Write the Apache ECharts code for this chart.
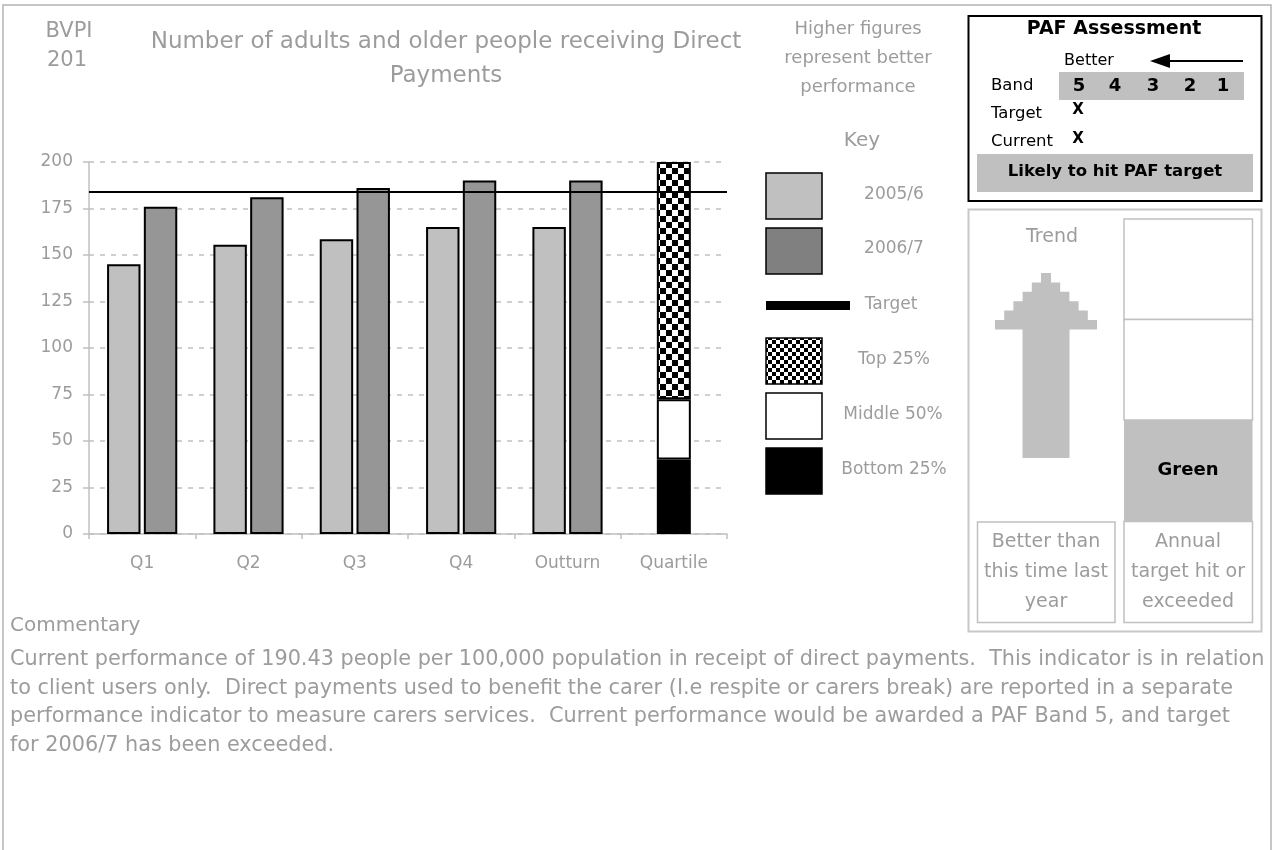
<!DOCTYPE html>
<html>
<head>
<meta charset="utf-8">
<title>BVPI 201</title>
<script src="https://cdn.jsdelivr.net/npm/echarts@6/dist/echarts.min.js"></script>
<style>
  html, body { margin: 0; padding: 0; background: #ffffff; }
  #chart { width: 1276px; height: 850px; }
</style>
</head>
<body>
<div id="chart"></div>
<script>
// data
var categories = ['Q1', 'Q2', 'Q3', 'Q4', 'Outturn', 'Quartile']
var year0506 = [145, 155.5, 158.5, 165, 165, '-']
var year0607 = [176, 181, 186, 190, 190, '-']
var target = 184
var bottom25 = ['-', '-', '-', '-', '-', 40]
var middle50 = ['-', '-', '-', '-', '-', 32.5]
var top25 = ['-', '-', '-', '-', '-', 127.5]
var bands = ['5', '4', '3', '2', '1']
var commentary = [
  'Current performance of 190.43 people per 100,000 population in receipt of direct payments.  This indicator is in relation',
  'to client users only.  Direct payments used to benefit the carer (I.e respite or carers break) are reported in a separate',
  'performance indicator to measure carers services.  Current performance would be awarded a PAF Band 5, and target',
  'for 2006/7 has been exceeded.'
]

var grey = '#9c9c9c'
var lineGrey = '#c0c0c0'
var FONT = '"DejaVu Sans", sans-serif'

function checker(size) {
  var c = document.createElement('canvas')
  c.width = c.height = size * 2
  var ctx = c.getContext('2d')
  ctx.fillStyle = '#ffffff'
  ctx.fillRect(0, 0, size * 2, size * 2)
  ctx.fillStyle = '#000000'
  ctx.fillRect(0, 0, size, size)
  ctx.fillRect(size, size, size, size)
  return c
}

function txt(x, y, s, size, opts) {
  opts = opts || {}
  return {
    type: 'text',
    silent: true,
    z: 10,
    style: {
      x: x,
      y: y,
      text: s,
      font: (opts.bold ? 'bold ' : '') + size + 'px ' + FONT,
      fill: opts.color || grey,
      align: opts.align || 'center',
      verticalAlign: 'middle'
    }
  }
}

function box(x, y, w, h, fill, stroke, lw) {
  return {
    type: 'rect',
    silent: true,
    shape: { x: x, y: y, width: w, height: h },
    style: { fill: fill || 'transparent', stroke: stroke || null, lineWidth: lw || 0 }
  }
}

// stepped "trend" arrow
function trendArrow(cx, top) {
  var shaftHw = 23.5
  var stepH = 9.4
  var rows = 6
  var baseY = top + rows * stepH
  var pts = [[cx - shaftHw, 458], [cx - shaftHw, baseY]]
  for (var i = rows - 1; i >= 0; i--) {
    var hw = 5 + i * 9.2
    pts.push([cx - hw, top + (i + 1) * stepH], [cx - hw, top + i * stepH])
  }
  for (var j = 0; j < rows; j++) {
    var hw2 = 5 + j * 9.2
    pts.push([cx + hw2, top + j * stepH], [cx + hw2, top + (j + 1) * stepH])
  }
  pts.push([cx + shaftHw, baseY], [cx + shaftHw, 458])
  return { type: 'polygon', silent: true, shape: { points: pts }, style: { fill: '#c0c0c0' } }
}

var graphics = [
  box(3, 5, 1268, 900, null, '#b4b4b4', 1.5),

  txt(69, 32, 'BVPI', 21),
  txt(67, 61, '201', 21),
  txt(446, 42, 'Number of adults and older people receiving Direct', 23),
  txt(446, 76, 'Payments', 23),

  txt(858, 29, 'Higher figures', 18),
  txt(858, 58, 'represent better', 18),
  txt(858, 87, 'performance', 18),

  // key
  txt(862, 141, 'Key', 20),
  box(766, 173, 56, 46, '#c0c0c0', '#000', 1.5),
  txt(894, 195, '2005/6', 17),
  box(766, 228, 56, 46, '#808080', '#000', 1.5),
  txt(894, 249, '2006/7', 17),
  box(766, 301, 84, 9, '#000000'),
  txt(891, 305, 'Target', 17),
  box(766, 338, 56, 46, { image: checker(4), repeat: 'repeat' }, '#000', 1.5),
  txt(894, 360, 'Top 25%', 17),
  box(766, 393, 56, 46, '#ffffff', '#000', 1.5),
  txt(893, 415, 'Middle 50%', 17),
  box(766, 448, 56, 46, '#000000', '#000', 1.5),
  txt(894, 470, 'Bottom 25%', 17),

  // PAF assessment
  box(968.5, 16, 293, 185, '#ffffff', '#000', 2),
  txt(1114, 29, 'PAF Assessment', 19, { bold: true, color: '#000' }),
  txt(1089, 61, 'Better', 16, { color: '#000' }),
  { type: 'line', silent: true, shape: { x1: 1168, y1: 61, x2: 1243, y2: 61 }, style: { stroke: '#000', lineWidth: 2 } },
  { type: 'polygon', silent: true, shape: { points: [[1150, 61], [1170, 54], [1170, 68]] }, style: { fill: '#000' } },
  box(1059, 72, 185, 28, '#c0c0c0'),
  txt(991, 86, 'Band', 16.5, { align: 'left', color: '#000' }),
  txt(991, 114, 'Target', 16.5, { align: 'left', color: '#000' }),
  txt(991, 142, 'Current', 16.5, { align: 'left', color: '#000' }),
  txt(1078, 110, 'X', 15, { bold: true, color: '#000' }),
  txt(1078, 139, 'X', 15, { bold: true, color: '#000' }),
  box(977, 154, 276, 38, '#c0c0c0'),
  txt(1115, 172, 'Likely to hit PAF target', 16.5, { bold: true, color: '#000' }),

  // trend / RAG panel
  box(968.5, 209.5, 293, 422, '#ffffff', '#c8c8c8', 2),
  txt(1052, 237, 'Trend', 19),
  trendArrow(1046, 273),
  box(977.5, 522, 137.5, 100.5, '#ffffff', lineGrey, 1.5),
  txt(1046, 542, 'Better than', 19),
  txt(1046, 572, 'this time last', 19),
  txt(1046, 602, 'year', 19),
  box(1124, 219, 128.5, 100.5, '#ffffff', lineGrey, 1.5),
  box(1124, 319.5, 128.5, 100.5, '#ffffff', lineGrey, 1.5),
  box(1124, 420, 128.5, 101.5, '#c0c0c0'),
  txt(1188, 470, 'Green', 18, { bold: true, color: '#000' }),
  box(1124, 521.5, 128.5, 101, '#ffffff', lineGrey, 1.5),
  txt(1188, 542, 'Annual', 19),
  txt(1188, 572, 'target hit or', 19),
  txt(1188, 602, 'exceeded', 19),

  txt(10, 626, 'Commentary', 20, { align: 'left' })
]
var bandX = [1079, 1115, 1153, 1190, 1223]
bands.forEach(function(b, i) {
  graphics.push(txt(bandX[i], 86, b, 18, { bold: true, color: '#000' }))
})
commentary.forEach(function(line, i) {
  graphics.push(txt(10, 660 + i * 28.4, line, 20.8, { align: 'left' }))
})

var myChart = echarts.init(document.getElementById('chart'))
var option = {
  backgroundColor: '#ffffff',
  animation: false,
  grid: { left: 89, top: 162, width: 638, height: 372 },
  xAxis: [
    {
      type: 'category',
      data: categories,
      axisLine: { show: true, lineStyle: { color: lineGrey, width: 1.5 } },
      axisTick: { show: true, length: 5, lineStyle: { color: lineGrey, width: 1.5 } },
      axisLabel: { color: grey, fontFamily: FONT, fontSize: 17, margin: 21 },
      splitLine: { show: false }
    },
    {
      // second axis so the quartile stack sits centred in its slot
      type: 'category',
      data: categories,
      show: false
    }
  ],
  yAxis: {
    type: 'value',
    min: 0,
    max: 200,
    interval: 25,
    axisLine: { show: true, lineStyle: { color: lineGrey, width: 1.5 } },
    axisTick: { show: true, length: 6, lineStyle: { color: lineGrey, width: 1.5 } },
    axisLabel: { color: grey, fontFamily: FONT, fontSize: 17, margin: 16 },
    splitLine: { show: true, lineStyle: { color: lineGrey, width: 1.5, type: [5, 6] } }
  },
  series: [
    {
      name: '2005/6',
      type: 'bar',
      xAxisIndex: 0,
      data: year0506,
      barGap: '10%',
      barCategoryGap: '34%',
      itemStyle: { color: '#c0c0c0', borderColor: '#000', borderWidth: 2 }
    },
    {
      name: '2006/7',
      type: 'bar',
      xAxisIndex: 0,
      data: year0607,
      itemStyle: { color: '#969696', borderColor: '#000', borderWidth: 2 },
      markLine: {
        silent: true,
        symbol: 'none',
        label: { show: false },
        lineStyle: { color: '#000', width: 2, type: 'solid' },
        data: [{ yAxis: target }]
      }
    },
    {
      name: 'Bottom 25%',
      type: 'bar',
      xAxisIndex: 1,
      stack: 'quartile',
      barWidth: 34,
      data: bottom25,
      itemStyle: { color: '#000000' }
    },
    {
      name: 'Middle 50%',
      type: 'bar',
      xAxisIndex: 1,
      stack: 'quartile',
      barWidth: 34,
      data: middle50,
      itemStyle: { color: '#ffffff', borderColor: '#000', borderWidth: 2 }
    },
    {
      name: 'Top 25%',
      type: 'bar',
      xAxisIndex: 1,
      stack: 'quartile',
      barWidth: 34,
      data: top25,
      itemStyle: { color: { image: checker(6), repeat: 'repeat' }, borderColor: '#000', borderWidth: 2 }
    }
  ],
  graphic: graphics
}
myChart.setOption(option, true)
window.addEventListener('resize', () => {
  myChart.resize()
})
</script>
</body>
</html>
